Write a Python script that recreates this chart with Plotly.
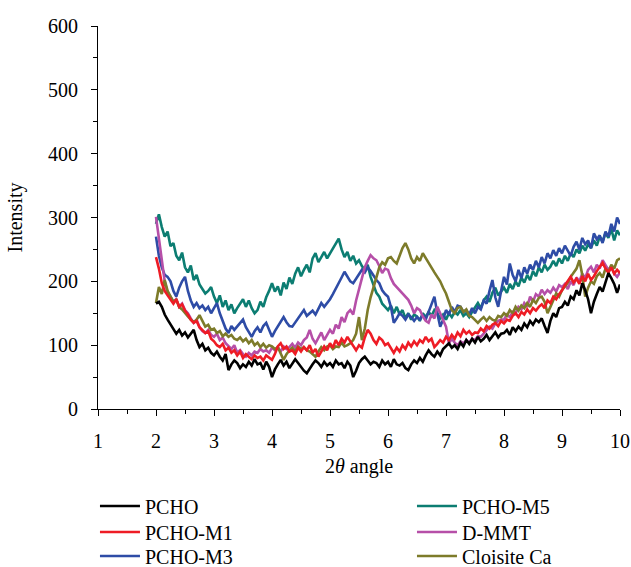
import plotly.graph_objects as go

# x grid: 2.00 .. 10.00 step 0.05
two_theta = [round(2 + 0.05 * i, 2) for i in range(161)]

pcho = [
    165, 168, 160, 148, 140, 132, 126, 118, 124, 115, 120, 112, 118, 124, 108, 97, 102, 92, 96, 88,
    84, 90, 82, 76, 86, 61, 70, 76, 72, 64, 70, 66, 74, 68, 78, 70, 72, 62, 74, 66,
    50, 62, 70, 77, 68, 74, 64, 72, 78, 72, 66, 60, 56, 64, 70, 76, 72, 66, 74, 68,
    72, 66, 76, 70, 72, 64, 74, 68, 50, 60, 72, 78, 82, 76, 70, 74, 72, 66, 76, 70,
    74, 66, 78, 70, 68, 72, 64, 61, 70, 76, 72, 80, 74, 84, 92, 86, 82, 90, 84, 94,
    98, 103, 96, 100, 94, 104, 98, 108, 102, 110, 104, 113, 106, 110, 116, 108, 114, 120, 112, 118,
    119, 124, 116, 128, 122, 129, 124, 134, 128, 138, 132, 140, 136, 142, 130, 119, 138, 150, 144, 158,
    160, 168, 162, 176, 172, 186, 178, 197, 186, 172, 150, 168, 180, 191, 184, 200, 213, 205, 196, 182,
    195,
]

pcho_m1 = [
    238, 220, 197, 185, 178, 171, 165, 172, 160, 164, 154, 148, 140, 135, 138, 128, 124, 119, 122, 110,
    106, 100, 97, 102, 92, 96, 88, 92, 84, 90, 80, 86, 82, 78, 84, 80, 82, 76, 84, 80,
    77, 86, 98, 103, 94, 98, 90, 92, 86, 96, 90, 97, 92, 100, 88, 94, 82, 90, 98, 92,
    103, 96, 108, 100, 110, 104, 113, 106, 98, 92, 100, 96, 112, 124, 118, 108, 102, 112, 108, 100,
    103, 95, 88, 96, 90, 100, 94, 104, 98, 106, 100, 108, 104, 113, 106, 110, 97, 102, 108, 104,
    113, 108, 116, 110, 120, 114, 124, 118, 122, 116, 120, 119, 126, 122, 130, 126, 132, 135, 130, 138,
    134, 140, 138, 146, 150, 144, 152, 148, 156, 150, 158, 154, 160, 164, 158, 170, 166, 176, 172, 180,
    186, 194, 200, 207, 198, 204, 196, 208, 200, 212, 202, 208, 216, 222, 229, 220, 214, 222, 212, 218,
    213,
]

pcho_m3 = [
    270, 240, 222, 210, 207, 200, 185, 176, 190, 200, 207, 185, 170, 160, 166, 158, 162, 155, 160, 150,
    158, 166, 150, 138, 126, 119, 130, 124, 129, 135, 140, 128, 120, 113, 122, 128, 120, 130, 135, 124,
    113, 122, 130, 138, 144, 136, 130, 129, 136, 142, 148, 155, 146, 150, 154, 148, 158, 166, 160, 166,
    172, 180, 188, 197, 206, 215, 208, 200, 197, 204, 210, 218, 214, 222, 216, 208, 202, 197, 186, 180,
    176, 160, 135, 142, 150, 146, 140, 148, 144, 138, 144, 140, 148, 140, 152, 162, 176, 150, 129, 140,
    155, 148, 160, 152, 162, 160, 152, 155, 148, 158, 150, 160, 156, 170, 165, 185, 202, 175, 160, 185,
    207, 195, 228, 210, 200, 218, 205, 222, 212, 226, 218, 232, 222, 238, 228, 244, 236, 249, 240, 252,
    244, 256, 248, 240, 254, 262, 250, 268, 258, 264, 252, 275, 266, 272, 260, 278, 270, 290, 278, 300,
    290,
]

pcho_m5 = [
    290, 305, 285, 270, 278, 255, 260, 240, 233, 245, 222, 214, 225, 202, 210, 195, 188, 181, 185, 191,
    176, 166, 178, 160, 170, 155, 164, 150, 158, 165, 172, 160, 170, 158, 150, 155, 168, 160, 175, 185,
    197, 184, 192, 178, 198, 188, 206, 196, 212, 222, 208, 218, 226, 214, 236, 244, 230, 238, 246, 236,
    244, 252, 260, 267, 250, 238, 246, 232, 240, 228, 233, 224, 218, 226, 207, 196, 182, 176, 165, 160,
    155, 162, 150, 160, 148, 155, 142, 150, 140, 148, 145, 138, 150, 144, 152, 146, 155, 150, 142, 148,
    140, 150, 144, 152, 148, 155, 146, 150, 144, 152, 160, 166, 158, 170, 176, 168, 182, 190, 178, 185,
    190, 182, 196, 188, 200, 192, 206, 198, 210, 202, 216, 208, 222, 214, 226, 218, 223, 232, 224, 236,
    228, 240, 232, 244, 238, 250, 244, 256, 248, 258, 252, 264, 256, 270, 262, 276, 268, 282, 264, 280,
    272,
]

d_mmt = [
    301, 265, 228, 200, 182, 176, 168, 172, 160, 165, 155, 150, 142, 135, 140, 128, 122, 119, 124, 116,
    113, 118, 108, 112, 103, 98, 94, 100, 88, 92, 86, 82, 88, 84, 90, 88, 94, 90, 92, 88,
    96, 92, 97, 90, 98, 94, 97, 102, 96, 104, 100, 108, 112, 124, 110, 103, 112, 120, 108, 116,
    124, 118, 132, 126, 144, 136, 150, 155, 148, 170, 187, 205, 222, 232, 241, 236, 233, 224, 213, 220,
    218, 205, 196, 191, 186, 181, 176, 171, 162, 150, 158, 155, 145, 138, 135, 148, 142, 160, 150, 138,
    129, 103, 110, 104, 100, 106, 103, 108, 104, 110, 108, 114, 113, 118, 124, 129, 126, 134, 138, 140,
    140, 148, 144, 152, 150, 160, 156, 166, 160, 176, 168, 180, 176, 187, 180, 186, 182, 190, 184, 194,
    191, 196, 188, 200, 194, 206, 200, 212, 205, 218, 223, 214, 226, 220, 233, 226, 218, 224, 212, 207,
    214,
]

cloisite_ca = [
    166, 191, 180, 202, 185, 176, 168, 171, 160, 156, 150, 145, 140, 136, 140, 147, 138, 129, 132, 124,
    126, 119, 122, 114, 118, 113, 116, 110, 108, 112, 106, 110, 103, 108, 100, 104, 97, 102, 96, 100,
    98, 94, 97, 88, 77, 86, 92, 96, 90, 98, 94, 97, 92, 90, 86, 82, 90, 97, 92, 98,
    100, 94, 98, 97, 104, 98, 100, 103, 108, 118, 144, 108, 126, 155, 175, 191, 208, 222, 230, 226,
    236, 238, 232, 228, 240, 252, 260, 250, 236, 228, 238, 232, 244, 236, 228, 222, 214, 207, 200, 190,
    181, 168, 155, 150, 158, 160, 152, 156, 146, 144, 140, 135, 140, 144, 138, 144, 140, 138, 146, 144,
    150, 146, 155, 150, 160, 154, 162, 158, 166, 160, 171, 166, 174, 176, 168, 150, 160, 172, 181, 176,
    186, 192, 198, 207, 214, 220, 233, 210, 176, 190, 200, 196, 208, 213, 206, 220, 214, 226, 220, 233,
    236,
]

series_names = ["PCHO", "PCHO-M1", "PCHO-M3", "PCHO-M5", "D-MMT", "Cloisite Ca"]
series_values = [pcho, pcho_m1, pcho_m3, pcho_m5, d_mmt, cloisite_ca]
series_colors = ["#000000", "#ee1c25", "#2e4ca6", "#0c7d72", "#b64fa8", "#7d7b2a"]

x_ticks = [1, 2, 3, 4, 5, 6, 7, 8, 9, 10]
y_ticks = [0, 100, 200, 300, 400, 500, 600]

FONT = "Liberation Serif"

# legend slots (column x, row y) in paper coordinates
legend_ids = ["legend", "legend2", "legend3", "legend4", "legend5", "legend6"]
legend_x = [-0.0058, -0.0058, -0.0058, 0.6015, 0.6015, 0.6015]
legend_y = [-0.2533, -0.3211, -0.3838, -0.2533, -0.3211, -0.3838]

fig = go.Figure()
draw_order = [3, 2, 4, 5, 1, 0]
for i in draw_order:
    fig.add_trace(go.Scatter(
        x=two_theta, y=series_values[i], mode="lines", name=series_names[i],
        line=dict(color=series_colors[i], width=2.6),
        legend=legend_ids[i],
    ))

legend_layout = {}
for i, lid in enumerate(legend_ids):
    legend_layout[lid] = dict(
        x=legend_x[i], y=legend_y[i], xanchor="left", yanchor="middle",
        orientation="v", font=dict(family=FONT, size=20, color="black"),
        bgcolor="rgba(0,0,0,0)", borderwidth=0, itemwidth=40,
    )

fig.update_layout(
    width=631, height=600,
    margin=dict(l=98, r=11, t=26, b=191),
    paper_bgcolor="white", plot_bgcolor="white",
    font=dict(family=FONT, size=20, color="black"),
    xaxis=dict(
        range=[1, 10], tickvals=x_ticks, ticks="outside", ticklen=6, tickcolor="black",
        showline=True, linecolor="black", linewidth=1, showgrid=False, zeroline=False,
        automargin=False,
        minor=dict(dtick=0.5, ticks="outside", ticklen=4, tickcolor="black", showgrid=False),
        title=dict(text="2<i>θ</i> angle", standoff=7, font=dict(size=20)),
        tickfont=dict(size=20), ticklabelstandoff=8,
    ),
    yaxis=dict(
        range=[0, 600], tickvals=y_ticks, ticks="outside", ticklen=6, tickcolor="black",
        showline=True, linecolor="black", linewidth=1, showgrid=False, zeroline=False,
        automargin=False,
        minor=dict(dtick=50, ticks="outside", ticklen=4, tickcolor="black", showgrid=False),
        title=dict(text="Intensity", standoff=20, font=dict(size=20)),
        tickfont=dict(size=20), ticklabelstandoff=9,
    ),
    showlegend=True,
    **legend_layout,
)

fig.write_html(
    "out.html",
    config={"displayModeBar": False},
    post_script="document.body.style.margin='0';document.body.style.overflow='hidden';",
)
